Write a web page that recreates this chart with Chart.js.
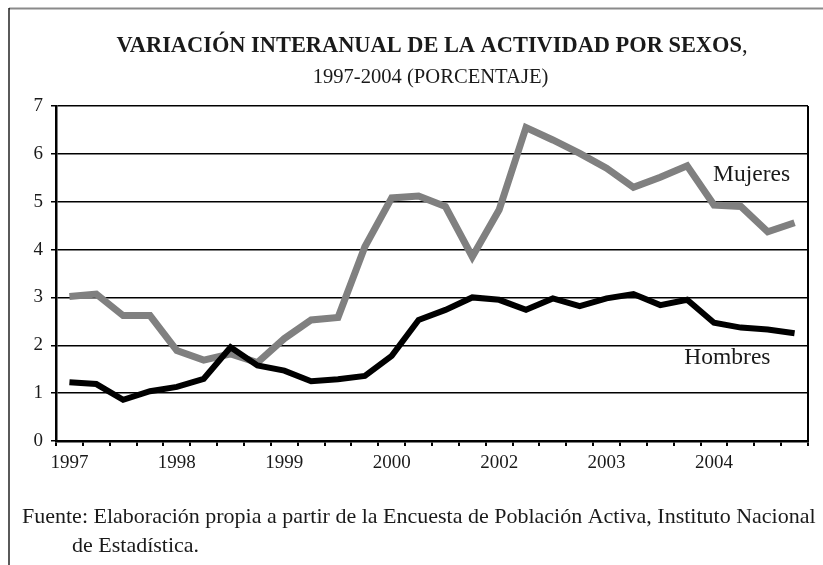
<!DOCTYPE html>
<html>
<head>
<meta charset="utf-8">
<script src="https://cdn.jsdelivr.net/npm/chart.js@4.4.1/dist/chart.umd.min.js"></script>
<style>
  html, body { margin: 0; padding: 0; background: #fff; }
  #wrap { width: 823px; height: 565px; position: relative; }
</style>
</head>
<body>
<div id="wrap"><canvas id="c" width="823" height="565"></canvas></div>
<script>
// ---- Data (quarterly) ----
const categories = [
  '1997','','','',
  '1998','','','',
  '1999','','','',
  '2000','','','',
  '2002','','','',
  '2003','','','',
  '2004','','',''
];
const hombres = [
  1.23, 1.19, 0.86, 1.04,
  1.13, 1.30, 1.96, 1.58,
  1.47, 1.25, 1.29, 1.36,
  1.78, 2.53, 2.74, 3.00,
  2.95, 2.74, 2.98, 2.82,
  2.98, 3.07, 2.84, 2.95,
  2.47, 2.37, 2.33, 2.25
];
const mujeres = [
  3.02, 3.07, 2.62, 2.62,
  1.89, 1.69, 1.82, 1.64,
  2.14, 2.53, 2.58, 4.06,
  5.08, 5.12, 4.90, 3.85,
  4.83, 6.55, 6.29, 6.01,
  5.70, 5.30, 5.51, 5.75,
  4.93, 4.90, 4.37, 4.56
];
const yTicks = [0, 1, 2, 3, 4, 5, 6, 7];
const titleBold = 'VARIACIÓN INTERANUAL DE LA ACTIVIDAD POR SEXOS';
const titleTail = ',';
const subtitle = '1997-2004 (PORCENTAJE)';
const footLine1 = 'Fuente: Elaboración propia a partir de la Encuesta de Población Activa, Instituto Nacional';
const footLine2 = 'de Estadística.';
const seriesLabels = [
  { text: 'Mujeres', x: 25.4, y: 5.56 },
  { text: 'Hombres', x: 24.5, y: 1.73 }
];

const SERIF = '"Liberation Serif", "Times New Roman", serif';

const decor = {
  id: 'decor',
  beforeDraw(chart) {
    const ctx = chart.ctx;
    ctx.save();
    ctx.fillStyle = '#fff';
    ctx.fillRect(0, 0, chart.width, chart.height);
    // outer frame
    ctx.strokeStyle = '#8a8a8a';
    ctx.lineWidth = 2;
    ctx.beginPath(); ctx.moveTo(9, 8.5); ctx.lineTo(chart.width, 8.5); ctx.stroke();
    ctx.strokeStyle = '#000';
    ctx.lineWidth = 1.3;
    ctx.beginPath(); ctx.moveTo(9, 8); ctx.lineTo(9, chart.height); ctx.stroke();
    ctx.restore();
  },
  afterDraw(chart) {
    const ctx = chart.ctx;
    const area = chart.chartArea;
    const xs = chart.scales.x, ys = chart.scales.y;
    ctx.save();
    // right border of plot area
    ctx.strokeStyle = '#000';
    ctx.lineWidth = 2;
    ctx.beginPath(); ctx.moveTo(area.right, area.top); ctx.lineTo(area.right, area.bottom); ctx.stroke();

    ctx.fillStyle = '#1a1a1a';
    ctx.textBaseline = 'alphabetic';
    // title
    const cx = 432;
    ctx.font = 'bold 22.4px ' + SERIF;
    const wb = ctx.measureText(titleBold).width;
    ctx.font = '22.4px ' + SERIF;
    const wt = ctx.measureText(titleTail).width;
    let x0 = cx - (wb + wt) / 2;
    ctx.textAlign = 'left';
    ctx.font = 'bold 22.4px ' + SERIF;
    ctx.fillText(titleBold, x0, 52);
    ctx.font = '22.4px ' + SERIF;
    ctx.fillText(titleTail, x0 + wb, 52);
    ctx.font = '20.6px ' + SERIF;
    ctx.textAlign = 'center';
    ctx.fillText(subtitle, 430.5, 83);

    // footnote
    ctx.textAlign = 'left';
    ctx.font = '22px ' + SERIF;
    ctx.fillText(footLine1, 22, 523);
    ctx.fillText(footLine2, 72, 552);

    // series labels
    ctx.font = '23.5px ' + SERIF;
    ctx.textAlign = 'center';
    ctx.textBaseline = 'middle';
    seriesLabels.forEach(l => {
      ctx.fillText(l.text, xs.getPixelForValue(l.x), ys.getPixelForValue(l.y));
    });
    ctx.restore();
  }
};

new Chart(document.getElementById('c'), {
  type: 'line',
  data: {
    labels: categories,
    datasets: [
      { label: 'Hombres', data: hombres, borderColor: '#000', borderWidth: 6, pointRadius: 0, tension: 0, fill: false },
      { label: 'Mujeres', data: mujeres, borderColor: '#808080', borderWidth: 7, pointRadius: 0, tension: 0, fill: false }
    ]
  },
  options: {
    responsive: false,
    animation: false,
    devicePixelRatio: 1,
    layout: { padding: { left: 0, right: 15, top: 106, bottom: 0 } },
    plugins: { legend: { display: false }, title: { display: false }, tooltip: { enabled: false } },
    scales: {
      x: {
        type: 'category',
        offset: true,
        grid: { offset: true, drawOnChartArea: false, drawTicks: true, tickLength: 5, color: '#000', lineWidth: 2 },
        border: { display: true, color: '#000', width: 2.5 },
        ticks: {
          autoSkip: false, maxRotation: 0, minRotation: 0, padding: 6,
          color: '#1a1a1a', font: { family: SERIF, size: 19 },
          callback: function(v, i) { return categories[i]; }
        },
        afterFit(s) { s.height = 565 - 441; }
      },
      y: {
        min: 0, max: 7,
        afterBuildTicks(s) { s.ticks = yTicks.map(v => ({ value: v })); },
        grid: { color: '#000', lineWidth: 1.5, drawTicks: true, tickLength: 5 },
        border: { display: true, color: '#000', width: 2.5 },
        ticks: { padding: 8, color: '#1a1a1a', font: { family: SERIF, size: 19 } },
        afterFit(s) { s.width = 56; }
      }
    }
  },
  plugins: [decor]
});
</script>
</body>
</html>
